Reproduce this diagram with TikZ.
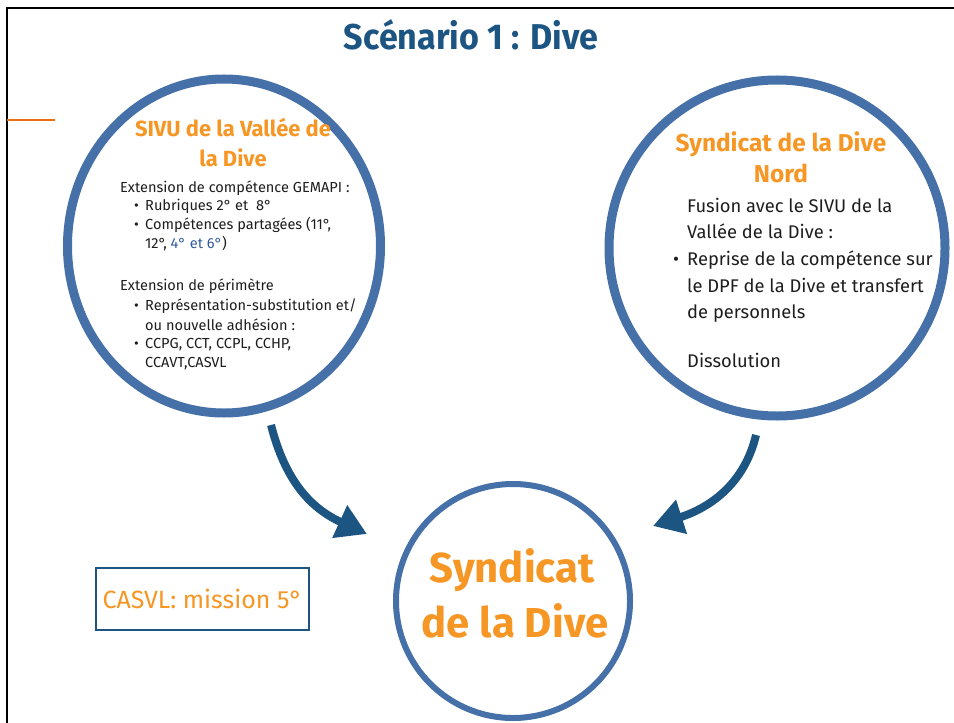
\documentclass[tikz,border=0pt]{standalone}
\usepackage{fontspec}
\setmainfont{Fira Sans}
\newfontfamily\titlefont[FakeStretch=0.95]{Fira Sans}
\usetikzlibrary{arrows.meta,shapes.geometric}
\definecolor{ringblue}{RGB}{70,112,168}
\definecolor{darkblue}{RGB}{28,84,130}
\definecolor{headorange}{RGB}{246,150,36}
\definecolor{lineorange}{RGB}{232,112,20}
\definecolor{textgray}{RGB}{30,30,30}
\definecolor{numblue}{RGB}{50,90,160}
\tikzset{
  ring/.style={draw=ringblue, line width=9bp, ellipse, inner sep=0pt},
  smallring/.style={draw=ringblue, line width=6bp, circle, inner sep=0pt},
  leftbody/.style={anchor=base west, inner sep=0pt, text=textgray, font=\fontsize{14.6}{17}\selectfont},
  rightbody/.style={anchor=base west, inner sep=0pt, text=textgray, font=\fontsize{18.4}{22}\selectfont},
  lefthead/.style={anchor=base, inner sep=0pt, text=headorange, font=\fontsize{22}{26}\selectfont\bfseries},
  righthead/.style={anchor=base, inner sep=0pt, text=headorange, font=\fontsize{24.5}{28}\selectfont\bfseries},
  bighead/.style={anchor=base, inner sep=0pt, text=headorange, font=\fontsize{42}{46}\selectfont\bfseries},
  flowarrow/.style={draw=darkblue, line width=8bp, -{Triangle[length=30bp,width=34bp]}},
}
\begin{document}
\begin{tikzpicture}[x=1bp,y=-1bp]
\useasboundingbox (0,0) rectangle (954,723);
\fill[white] (0,0) rectangle (954,723);
% frame
\draw[line width=2.5bp, black] (7,723) -- (7,8) -- (954,8);
\draw[line width=2bp, lineorange] (7,120) -- (55,120);
% title
\node[inner sep=0pt, anchor=base, text=darkblue, font=\titlefont\fontsize{36}{40}\selectfont\bfseries] (title) at (471,50) {Scénario 1 : Dive};
% circles
\node[ring, minimum width=313bp, minimum height=334bp] (c1) at (224,246) {};
\node[ring, minimum width=336bp, minimum height=336bp] (c2) at (777,248) {};
\node[smallring, minimum size=234bp] (c3) at (513,601) {};
% left circle text
\node[lefthead] (h1a) at (233,137) {SIVU de la Vallée de};
\node[lefthead] (h1b) at (233,167) {la Dive};
\node[leftbody] (l1) at (120,192) {Extension de compétence GEMAPI :};
\node[leftbody] (l2) at (134,210) {•};
\node[leftbody] (l3) at (145,210) {Rubriques 2° et~ 8°};
\node[leftbody] (l4) at (134,229) {•};
\node[leftbody] (l5) at (145,229) {Compétences partagées (11°,};
\node[leftbody] (l6) at (145,248) {12°, \textcolor{numblue}{4° et 6°})};
\node[leftbody] (l7) at (120,290) {Extension de périmètre};
\node[leftbody] (l8) at (134,310) {•};
\node[leftbody] (l9) at (145,310) {Représentation-substitution et/};
\node[leftbody] (l10) at (145,330) {ou nouvelle adhésion :};
\node[leftbody] (l11) at (134,348) {•};
\node[leftbody] (l12) at (145,348) {CCPG, CCT, CCPL, CCHP,};
\node[leftbody] (l13) at (145,367) {CCAVT,CASVL};
% right circle text
\node[righthead] (h2a) at (781,152) {Syndicat de la Dive};
\node[righthead] (h2b) at (781,183) {Nord};
\node[rightbody] (r1) at (687,212) {Fusion avec le SIVU de la};
\node[rightbody] (r2) at (687,238) {Vallée de la Dive :};
\node[rightbody] (r3) at (673,265) {•};
\node[rightbody] (r4) at (687,265) {Reprise de la compétence sur};
\node[rightbody] (r5) at (687,292) {le DPF de la Dive et transfert};
\node[rightbody] (r6) at (687,318) {de personnels};
\node[rightbody] (r7) at (687,367) {Dissolution};
% bottom circle text
\node[bighead] (b1) at (512,582) {Syndicat};
\node[bighead] (b2) at (515,637) {de la Dive};
% CASVL box
\node[draw=darkblue, line width=2bp, minimum width=213bp, minimum height=62bp, inner sep=0pt, text=headorange, font=\fontsize{25}{28}\selectfont] (box) at (202.5,599) {CASVL: mission 5°};
% arrows
\coordinate (a1s) at (271,425);
\coordinate (a1e) at (367,534);
\coordinate (a2s) at (756,435);
\coordinate (a2e) at (653,526);
\draw[flowarrow] (a1s) .. controls (285,480) and (310,508) .. (a1e);
\draw[flowarrow] (a2s) .. controls (745,482) and (712,507) .. (a2e);
\end{tikzpicture}
\end{document}
